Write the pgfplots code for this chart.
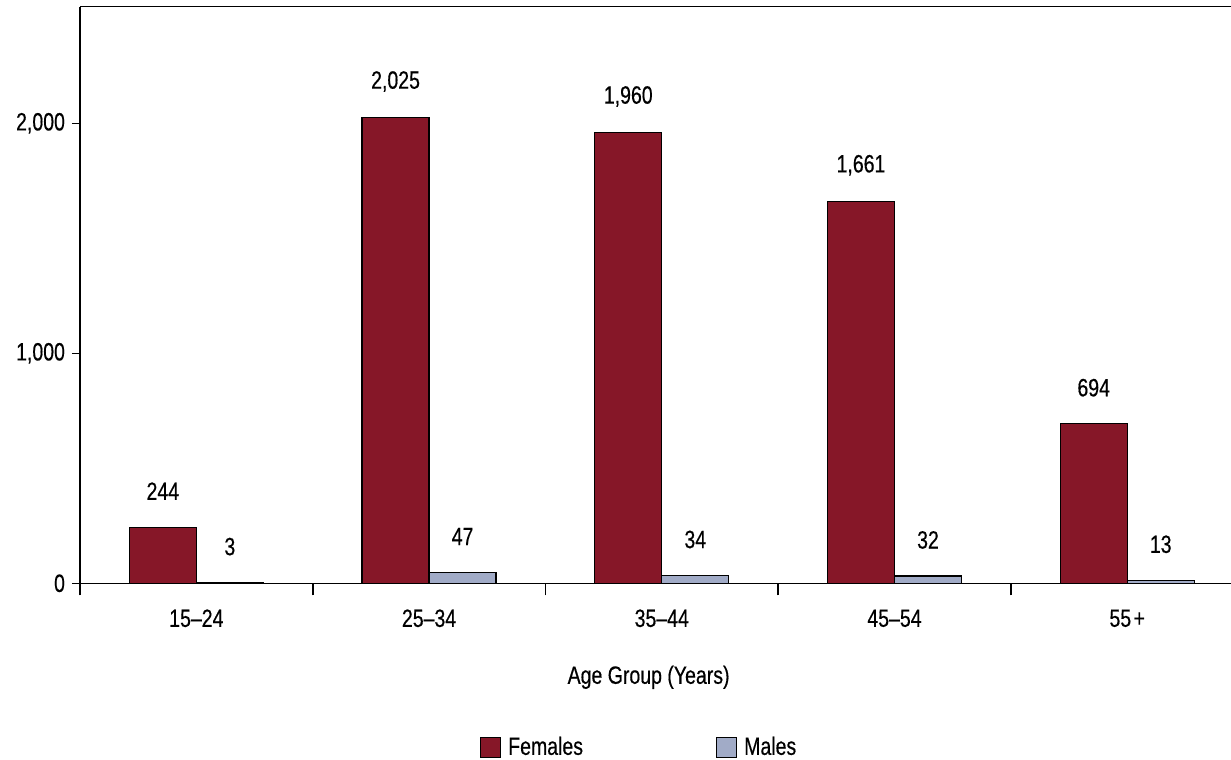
\documentclass[border=0pt]{standalone}
\usepackage{fontspec}
\setmainfont{Liberation Sans}[FakeStretch=0.78, FakeBold=0.4]
\usepackage{pgfplots}
\usepackage{pgfplotstable}
\pgfplotsset{compat=1.18}

\definecolor{femalered}{HTML}{861728}
\definecolor{malegray}{HTML}{A1ABC7}

% Cases by age group and sex
\pgfplotstableread{
x females males
0 244  3
1 2025 47
2 1960 34
3 1661 32
4 694  13
}\agedata

\newcommand{\lblfont}{\fontsize{12.5pt}{15pt}\selectfont}

\begin{document}
\begin{tikzpicture}[font=\lblfont]
\path[use as bounding box] (-40pt,-88.35pt) rectangle (575.5pt,291.65pt);
\begin{axis}[
  at={(0pt,0pt)}, anchor=south west,
  scale only axis,
  width=575.5pt, height=288.3pt,
  xmin=-0.5, xmax=4.446,
  ymin=0, ymax=2507,
  clip=false,
  axis lines=left,
  axis line style={-, line width=0.8pt, black},
  tick align=outside,
  tick style={black, line width=0.8pt},
  ytick={0,1000,2000},
  yticklabels={0,{1,000},{2,000}},
  major tick length=4pt,
  xtick={0,1,2,3,4},
  xticklabels={15--24,25--34,35--44,45--54,55\kern1.2pt+},
  x tick style={draw=none},
  minor xtick={-0.5,0.5,1.5,2.5,3.5},
  minor x tick style={draw=black, line width=0.8pt},
  minor tick length=6pt,
  xticklabel style={font=\lblfont, anchor=center, yshift=-13.5pt},
  yticklabel style={font=\lblfont},
  /pgf/number format/assume math mode=true,
  /pgf/number format/1000 sep={,},
  bar width=0.288,
  nodes near coords,
  every node near coord/.append style={font=\lblfont, anchor=center, yshift=18pt, black},
  legend columns=2,
  legend style={draw=none, fill=none, font=\lblfont,
    at={(0.342,-0.2844)}, anchor=west,
    /tikz/every even column/.append style={column sep=64.5pt},
    /tikz/every odd column/.append style={column sep=1.5pt}},
  legend image code/.code={\draw[#1] (0pt,-5pt) rectangle (10pt,5pt);},
]
% each sex sits on its own side of the category centre
\addplot[ybar, bar shift=0pt, fill=femalered, draw=black, line width=0.6pt]
  table[x expr=\thisrow{x}-0.144, y=females] {\agedata};
\addlegendentry{Females}
\addplot[ybar, bar shift=0pt, fill=malegray, draw=black, line width=0.6pt]
  table[x expr=\thisrow{x}+0.144, y=males] {\agedata};
\addlegendentry{Males}
\draw[line width=0.8pt] (rel axis cs:0,1) -- (rel axis cs:1,1);
\node[font=\lblfont] at (rel axis cs:0.494,0) [yshift=-47pt] {Age Group (Years)};
\end{axis}
\end{tikzpicture}
\end{document}
